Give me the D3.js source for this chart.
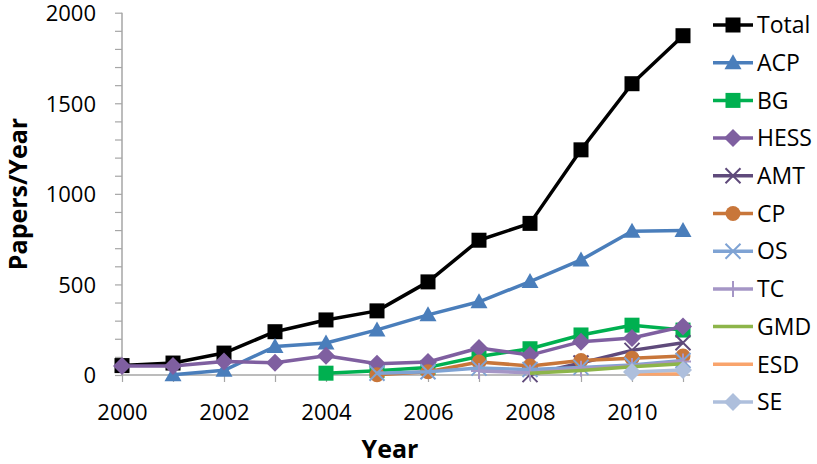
<!DOCTYPE html>
<html>
<head>
<meta charset="utf-8">
<script src="https://cdn.jsdelivr.net/npm/d3@7"></script>
<style>
  body { margin: 0; background: #fff; }
  text { font-family: "Open Sans", "Noto Sans", sans-serif; }
</style>
</head>
<body>
<div id="chart"></div>
<script>
// Data (null = journal not yet published)
var years = [2000, 2001, 2002, 2003, 2004, 2005, 2006, 2007, 2008, 2009, 2010, 2011];
var total = [52, 66, 121, 239, 304, 354, 514, 744, 837, 1243, 1608, 1873];
var acp   = [null, 2, 26, 157, 177, 249, 332, 404, 516, 635, 793, 798];
var bg    = [null, null, null, null, 10, 24, 42, 102, 145, 221, 275, 248];
var hess  = [50, 50, 74, 68, 106, 62, 72, 149, 110, 184, 204, 268];
var amt   = [null, null, null, null, null, null, null, null, 2, 66, 136, 178];
var cp    = [null, null, null, null, null, 2, 18, 72, 50, 80, 93, 105];
var os    = [null, null, null, null, null, 10, 18, 38, 30, 42, 55, 80];
var tc    = [null, null, null, null, null, null, null, 22, 12, 35, 50, 75];
var gmd   = [null, null, null, null, null, null, null, null, 10, 25, 45, 62];
var esd   = [null, null, null, null, null, null, null, null, null, null, 5, 5];
var se    = [null, null, null, null, null, null, null, null, null, null, 17, 28];

var seriesNames = ["Total", "ACP", "BG", "HESS", "AMT", "CP", "OS", "TC", "GMD", "ESD", "SE"];
var seriesValues = [total, acp, bg, hess, amt, cp, os, tc, gmd, esd, se];

var xTicks = [2000, 2002, 2004, 2006, 2008, 2010];
var yTicks = [0, 500, 1000, 1500, 2000];

// styles per series
var colors = ["#000000", "#4a7ebb", "#00b050", "#7f5fa0", "#5f4a7b", "#c8763a",
              "#7fa3d4", "#a596c6", "#8db54a", "#f9a46c", "#aebfdc"];
var markers = ["square", "triangle", "square", "diamond", "x", "circle",
               "x", "plus", "none", "none", "diamond"];

var svgWidth = 817;
var svgHeight = 464;

var svg = d3.select("#chart")
  .append("svg")
  .attr("width", svgWidth)
  .attr("height", svgHeight);

var xScale = d3.scaleLinear()
  .domain([2000, 2011])
  .range([122, 683]);

var yScale = d3.scaleLinear()
  .domain([0, 2000])
  .range([375, 12.7]);

// Axes
var bottomAxis = d3.axisBottom(xScale)
  .tickValues(d3.range(2000, 2012))
  .tickSize(7)
  .tickFormat(d => xTicks.indexOf(d) >= 0 ? d : "");

var leftAxis = d3.axisLeft(yScale)
  .tickValues(d3.range(0, 2001, 100))
  .tickSize(7)
  .tickFormat(d => yTicks.indexOf(d) >= 0 ? d : "");

var xAxisG = svg.append("g")
  .attr("transform", `translate(0, ${yScale(0)})`)
  .call(bottomAxis);

var yAxisG = svg.append("g")
  .attr("transform", `translate(${xScale(2000)}, 0)`)
  .call(leftAxis);

[xAxisG, yAxisG].forEach(function(g) {
  g.select(".domain").attr("stroke", "#a6a6a6").attr("stroke-width", 1.5);
  g.selectAll(".tick line").attr("stroke", "#a6a6a6").attr("stroke-width", 1.2);
  g.selectAll(".tick text")
    .attr("fill", "#000")
    .style("font-size", "22px");
});
xAxisG.selectAll(".tick text").attr("y", 45).attr("dy", 0);
yAxisG.selectAll(".tick text").attr("x", -26).attr("dy", "0.36em");
// keep x axis line a bit past the last tick, like the original
xAxisG.select(".domain").attr("d", `M${xScale(2000)},0H${xScale(2011) + 7}`);
yAxisG.select(".domain").attr("d", `M0,${yScale(0)}V${yScale(2000)}`);

// Axis titles
svg.append("text")
  .attr("transform", `translate(27, 194) rotate(-90)`)
  .attr("text-anchor", "middle")
  .style("font-size", "25px")
  .style("font-weight", "bold")
  .text("Papers/Year");

svg.append("text")
  .attr("x", 390)
  .attr("y", 458)
  .attr("text-anchor", "middle")
  .style("font-size", "25px")
  .style("font-weight", "bold")
  .text("Year");

// marker drawing
function drawMarker(g, type, color, x, y) {
  if (type === "square") {
    g.append("rect")
      .attr("x", x - 7.5).attr("y", y - 7.5)
      .attr("width", 15).attr("height", 15)
      .attr("fill", color);
  } else if (type === "triangle") {
    g.append("path")
      .attr("d", `M${x},${y - 8.5}L${x + 8.5},${y + 6.5}L${x - 8.5},${y + 6.5}Z`)
      .attr("fill", color);
  } else if (type === "diamond") {
    g.append("path")
      .attr("d", `M${x},${y - 9}L${x + 9},${y}L${x},${y + 9}L${x - 9},${y}Z`)
      .attr("fill", color);
  } else if (type === "circle") {
    g.append("circle")
      .attr("cx", x).attr("cy", y).attr("r", 7.5)
      .attr("fill", color);
  } else if (type === "x") {
    g.append("path")
      .attr("d", `M${x - 7.5},${y - 7.5}L${x + 7.5},${y + 7.5}M${x + 7.5},${y - 7.5}L${x - 7.5},${y + 7.5}`)
      .attr("stroke", color).attr("stroke-width", 2).attr("fill", "none");
  } else if (type === "plus") {
    g.append("path")
      .attr("d", `M${x - 8},${y}H${x + 8}M${x},${y - 8}V${y + 8}`)
      .attr("stroke", color).attr("stroke-width", 2).attr("fill", "none");
  }
}

var line = d3.line()
  .defined(d => d.v !== null)
  .x(d => xScale(d.year))
  .y(d => yScale(d.v));

// Series (later ones on top)
seriesNames.forEach(function(name, i) {
  var pts = years.map((yr, j) => ({ year: yr, v: seriesValues[i][j] }));
  var g = svg.append("g").attr("class", "series");
  g.append("path")
    .datum(pts)
    .attr("d", line)
    .attr("fill", "none")
    .attr("stroke", colors[i])
    .attr("stroke-width", 3.5)
    .attr("stroke-linejoin", "round");
  pts.filter(d => d.v !== null).forEach(function(d) {
    drawMarker(g, markers[i], colors[i], xScale(d.year), yScale(d.v));
  });
});

// Legend
var legend = svg.append("g");
seriesNames.forEach(function(name, i) {
  var ly = 25 + i * 37.7;
  legend.append("line")
    .attr("x1", 713).attr("x2", 753)
    .attr("y1", ly).attr("y2", ly)
    .attr("stroke", colors[i])
    .attr("stroke-width", 3.5);
  drawMarker(legend, markers[i], colors[i], 733, ly);
  legend.append("text")
    .attr("x", 757)
    .attr("y", ly)
    .attr("dy", "0.36em")
    .style("font-size", "23px")
    .text(name);
});
</script>
</body>
</html>
